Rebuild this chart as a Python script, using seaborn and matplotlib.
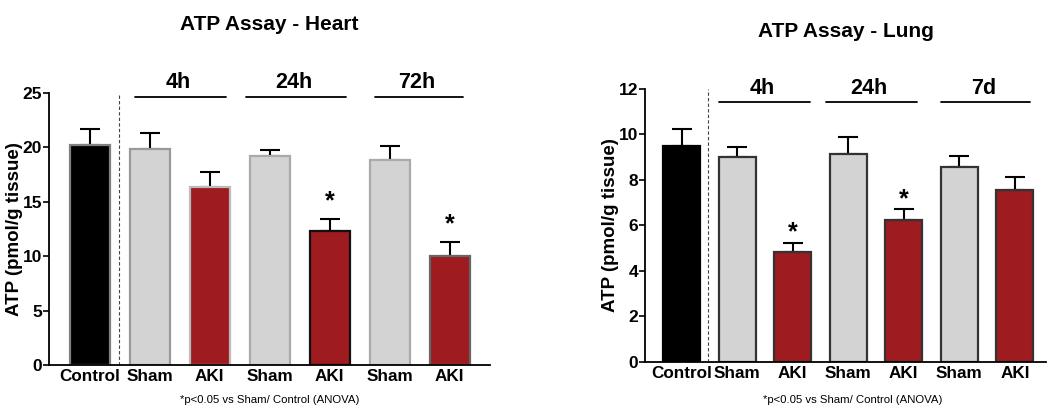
import numpy as np
import pandas as pd
import matplotlib.pyplot as plt
import seaborn as sns

sns.set_theme(style="ticks")
plt.rcParams['font.family'] = ['Liberation Sans', 'DejaVu Sans']
plt.rcParams['font.weight'] = 'bold'
for k in ['text.color', 'axes.labelcolor', 'xtick.color', 'ytick.color', 'axes.edgecolor']:
    plt.rcParams[k] = 'black'

# data
groups = ["Control", "Sham", "AKI", "Sham", "AKI", "Sham", "AKI"]
bar_ids = ["C", "S1", "A1", "S2", "A2", "S3", "A3"]

heart_mean = [20.2, 19.85, 16.4, 19.25, 12.3, 18.85, 10.0]
heart_err = [1.45, 1.5, 1.3, 0.5, 1.15, 1.3, 1.35]
heart_times = ["4h", "24h", "72h"]
heart_stars = [4, 6]

lung_mean = [9.51, 9.0, 4.83, 9.14, 6.26, 8.56, 7.57]
lung_err = [0.73, 0.45, 0.4, 0.74, 0.44, 0.51, 0.55]
lung_times = ["4h", "24h", "7d"]
lung_stars = [2, 4]

colors = ["#000000", "#d3d3d3", "#9e1b1f", "#d3d3d3", "#9e1b1f", "#d3d3d3", "#9e1b1f"]


def draw(ax, mean, err, times, stars, ymax, step, edge, line_y, label_y, star_off, xlim, spans):
    df = pd.DataFrame({"bar": bar_ids, "atp": mean})
    sns.barplot(data=df, x="bar", y="atp", hue="bar", palette=colors,
                legend=False, width=0.67, ax=ax, saturation=1, zorder=2)
    for i, p in enumerate(ax.patches):
        p.set_edgecolor(edge[i])
        p.set_linewidth(1.6)
    x = np.arange(len(mean))
    ax.errorbar(x, mean, yerr=[np.zeros(len(err)), err], fmt="none",
                ecolor="black", elinewidth=1.5, capsize=7, capthick=1.5, zorder=1)
    ax.set_xlim(*xlim)
    ax.set_ylim(0, ymax)
    ax.set_yticks(np.arange(0, ymax + 0.01, step))
    ax.set_xticks(x)
    ax.set_xticklabels(groups, fontsize=12.3, fontweight="bold")
    ax.tick_params(axis="y", labelsize=12.5, length=4, width=1.2, pad=1)
    ax.tick_params(axis="x", length=0, pad=3)
    for lab in ax.get_yticklabels():
        lab.set_fontweight("bold")
    ax.set_xlabel("")
    ax.set_ylabel("ATP (pmol/g tissue)", fontsize=13.5, fontweight="bold", labelpad=0)
    sns.despine(ax=ax)
    ax.spines["left"].set_linewidth(1.3)
    ax.spines["bottom"].set_linewidth(1.3)
    ax.axvline(0.48, color="#444444", lw=0.8, ls=(0, (3, 2)))
    for t, (a, b) in zip(times, spans):
        ax.plot([a, b], [line_y, line_y], color="black", lw=1.3, clip_on=False)
        ax.text((a + b) / 2 - 0.04, label_y, t, ha="center", va="center",
                fontsize=15.5, fontweight="bold", clip_on=False)
    for s in stars:
        ax.text(x[s], mean[s] + err[s] + star_off, "*", ha="center", va="center",
                fontsize=18, fontweight="bold")


fig = plt.figure(figsize=(10.47, 4.08), dpi=100)
ax1 = fig.add_axes([0.0468, 0.105, 0.421, 0.667])
ax2 = fig.add_axes([0.616, 0.113, 0.383, 0.669])

heart_edge = ["#808080", "#999999", "#bbbbbb", "#aaaaaa", "#111111", "#aaaaaa", "#666666"]
lung_edge = ["#000000"] + ["#333333"] * 6

draw(ax1, heart_mean, heart_err, heart_times, heart_stars, 25, 5, heart_edge,
     24.6, 25.95, 1.6, (-0.68, 6.67),
     [(0.75, 2.27), (2.6, 4.27), (4.75, 6.23)])
draw(ax2, lung_mean, lung_err, lung_times, lung_stars, 12, 2, lung_edge,
     11.41, 12.0, 0.45, (-0.66, 6.56),
     [(0.68, 2.32), (2.6, 4.24), (4.67, 6.28)])

ax1.set_title("ATP Assay - Heart", fontsize=15, fontweight="bold", y=1.2)
ax2.set_title("ATP Assay - Lung", fontsize=15, fontweight="bold", y=1.16)

fig.text(0.258, 0.02, "*p<0.05 vs Sham/ Control (ANOVA)", ha="center", va="center",
         fontsize=8.2, fontweight="normal")
fig.text(0.814, 0.02, "*p<0.05 vs Sham/ Control (ANOVA)", ha="center", va="center",
         fontsize=8.2, fontweight="normal")

fig.savefig("out.png", dpi=100)
